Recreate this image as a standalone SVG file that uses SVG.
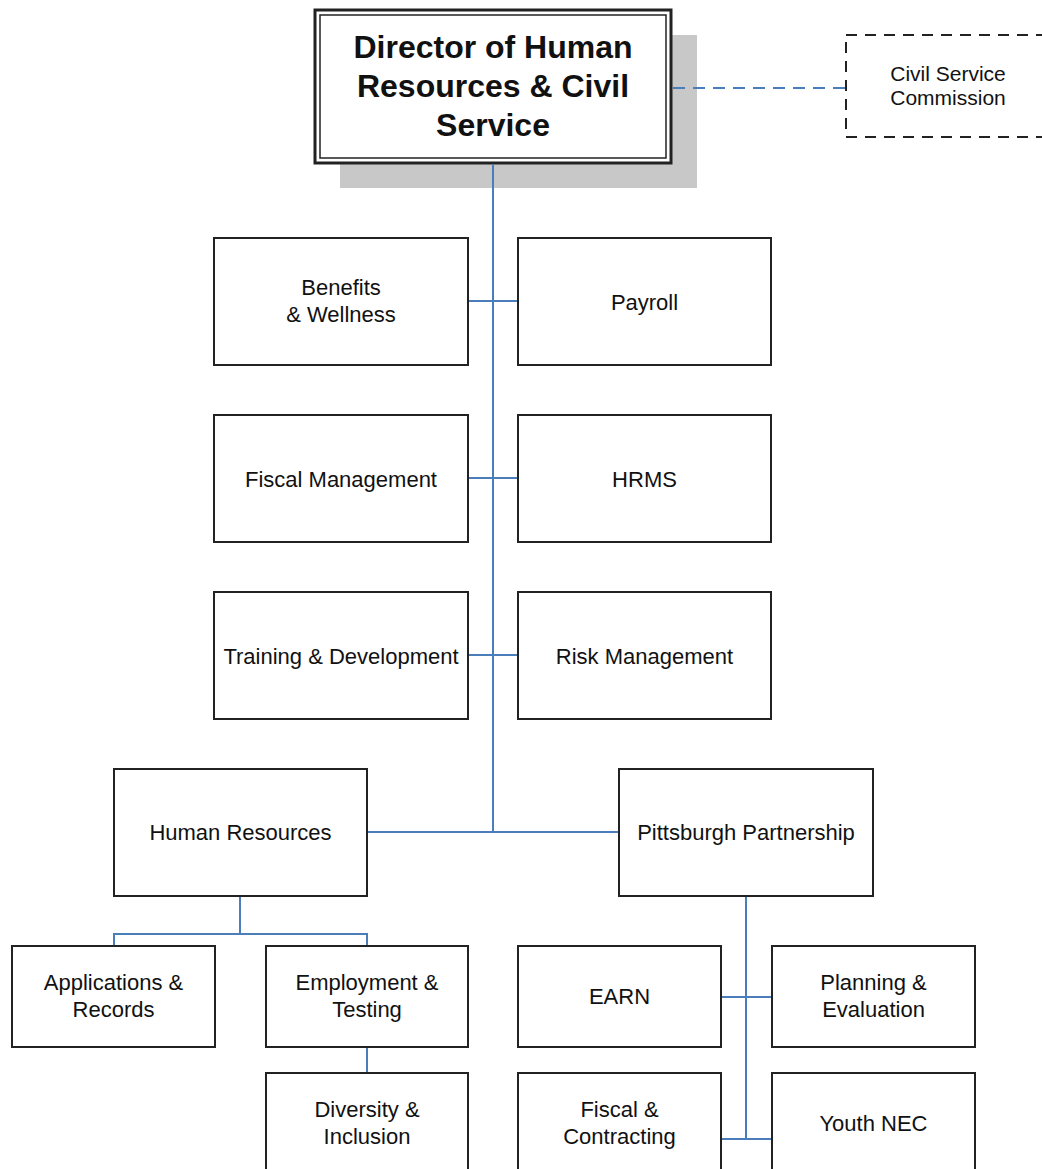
<svg xmlns="http://www.w3.org/2000/svg" width="1042" height="1169" viewBox="0 0 1042 1169">
<style>
.box{fill:#ffffff;stroke:#222222;stroke-width:2}
.t{font-family:"Liberation Sans",Arial,sans-serif;font-size:22px;fill:#111111;text-anchor:middle}
.tb{font-family:"Liberation Sans",Arial,sans-serif;font-size:32px;font-weight:bold;fill:#111111;text-anchor:middle}
.ts{font-family:"Liberation Sans",Arial,sans-serif;font-size:21px;fill:#111111;text-anchor:middle}
.c{stroke:#4a7ebb;stroke-width:2;fill:none}
</style>
<rect x="0" y="0" width="1042" height="1169" fill="#ffffff"/>
<g id="director">
<rect x="340" y="35" width="357" height="153" fill="#c8c8c8"/>
<rect x="315" y="10" width="356" height="153" fill="#ffffff" stroke="#222222" stroke-width="3"/>
<rect x="320" y="15" width="346" height="143" fill="none" stroke="#222222" stroke-width="1.5"/>
<text class="tb" x="493" y="58">Director of Human</text>
<text class="tb" x="493" y="97">Resources &amp; Civil</text>
<text class="tb" x="493" y="136">Service</text>
</g>
<g id="civil-service-commission">
<rect x="846" y="35" width="230" height="102" fill="#ffffff" stroke="#222222" stroke-width="2" stroke-dasharray="11,8"/>
<text class="ts" x="948" y="81">Civil Service</text>
<text class="ts" x="948" y="105">Commission</text>
</g>
<g id="benefits">
<rect class="box" x="214" y="238" width="254" height="127"/>
<text class="t" x="341" y="295">Benefits</text>
<text class="t" x="341" y="322">&amp; Wellness</text>
</g>
<g id="payroll">
<rect class="box" x="518" y="238" width="253" height="127"/>
<text class="t" x="644.5" y="309.5">Payroll</text>
</g>
<g id="fiscal-management">
<rect class="box" x="214" y="415" width="254" height="127"/>
<text class="t" x="341" y="486.5">Fiscal Management</text>
</g>
<g id="hrms">
<rect class="box" x="518" y="415" width="253" height="127"/>
<text class="t" x="644.5" y="486.5">HRMS</text>
</g>
<g id="training">
<rect class="box" x="214" y="592" width="254" height="127"/>
<text class="t" x="341" y="663.5">Training &amp; Development</text>
</g>
<g id="risk-management">
<rect class="box" x="518" y="592" width="253" height="127"/>
<text class="t" x="644.5" y="663.5">Risk Management</text>
</g>
<g id="human-resources">
<rect class="box" x="114" y="769" width="253" height="127"/>
<text class="t" x="240.5" y="840">Human Resources</text>
</g>
<g id="pittsburgh-partnership">
<rect class="box" x="619" y="769" width="254" height="127"/>
<text class="t" x="746" y="840">Pittsburgh Partnership</text>
</g>
<g id="applications">
<rect class="box" x="12" y="946" width="203" height="101"/>
<text class="t" x="113.5" y="990">Applications &amp;</text>
<text class="t" x="113.5" y="1017">Records</text>
</g>
<g id="employment">
<rect class="box" x="266" y="946" width="202" height="101"/>
<text class="t" x="367" y="990">Employment &amp;</text>
<text class="t" x="367" y="1017">Testing</text>
</g>
<g id="diversity">
<rect class="box" x="266" y="1073" width="202" height="110"/>
<text class="t" x="367" y="1117">Diversity &amp;</text>
<text class="t" x="367" y="1144">Inclusion</text>
</g>
<g id="earn">
<rect class="box" x="518" y="946" width="203" height="101"/>
<text class="t" x="619.5" y="1004">EARN</text>
</g>
<g id="planning">
<rect class="box" x="772" y="946" width="203" height="101"/>
<text class="t" x="873.5" y="990">Planning &amp;</text>
<text class="t" x="873.5" y="1017">Evaluation</text>
</g>
<g id="fiscal-contracting">
<rect class="box" x="518" y="1073" width="203" height="110"/>
<text class="t" x="619.5" y="1117">Fiscal &amp;</text>
<text class="t" x="619.5" y="1144">Contracting</text>
</g>
<g id="youth-nec">
<rect class="box" x="772" y="1073" width="203" height="110"/>
<text class="t" x="873.5" y="1131">Youth NEC</text>
</g>
<g id="connectors">
<line class="c" x1="493" y1="164.5" x2="493" y2="832"/>
<line class="c" x1="469" y1="301" x2="517" y2="301"/>
<line class="c" x1="469" y1="478" x2="517" y2="478"/>
<line class="c" x1="469" y1="655" x2="517" y2="655"/>
<line class="c" x1="368" y1="832" x2="618" y2="832"/>
<line class="c" x1="673" y1="88" x2="845" y2="88" stroke-dasharray="12,8"/>
<polyline class="c" points="240,897 240,934"/>
<polyline class="c" points="114,945 114,934 367,934 367,945"/>
<line class="c" x1="367" y1="1048" x2="367" y2="1072"/>
<line class="c" x1="746" y1="897" x2="746" y2="1139"/>
<line class="c" x1="722" y1="997" x2="771" y2="997"/>
<line class="c" x1="722" y1="1139" x2="771" y2="1139"/>
</g>
</svg>
